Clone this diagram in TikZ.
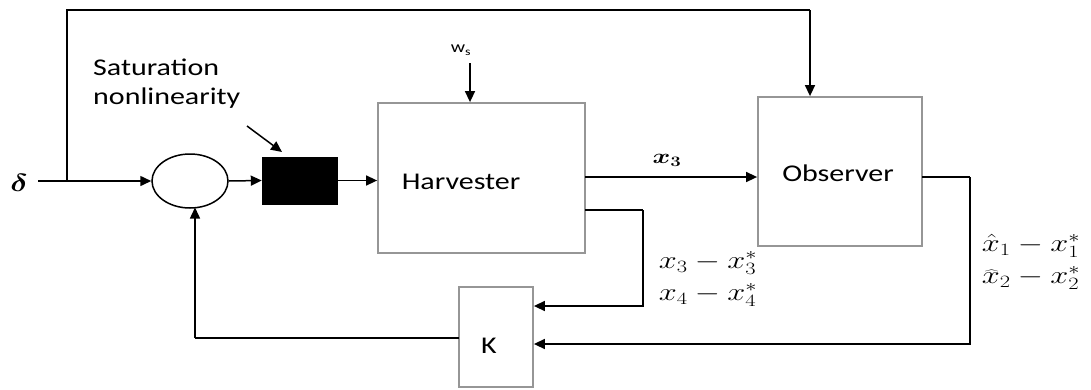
\documentclass[tikz,border=0pt]{standalone}
\usepackage[no-math]{fontspec}
\setmainfont{Carlito}
\usepackage{bm}
\usepackage{graphicx}
\usetikzlibrary{arrows.meta,shapes.geometric,calc}
\definecolor{boxgray}{RGB}{150,150,150}
\newcommand{\hstr}[1]{\scalebox{1.25}[1]{#1}}
\newcommand{\mstr}[1]{\scalebox{1.3}[1]{#1}}
\tikzset{
  conn/.style={line width=1.5pt, draw=black},
  arr/.style={conn, -{Triangle[length=11pt,width=10pt]}},
  blockbox/.style={draw=boxgray, line width=1.8pt, inner sep=0pt, fill=white},
  txt/.style={inner sep=0pt, font=\fontsize{24}{29}\selectfont},
  mtxt/.style={inner sep=0pt, align=center, font=\fontsize{23}{32}\selectfont},
}
\begin{document}
\begin{tikzpicture}[x=1pt,y=-1pt]
\useasboundingbox (0,0) rectangle (1091,389);
% blocks
\node[draw=black, line width=1.5pt, ellipse, minimum width=76pt, minimum height=54pt, inner sep=0pt] (sum) at (190,181) {};
\node[fill=black, draw=black, minimum width=75pt, minimum height=47pt, inner sep=0pt] (sat) at (299.5,180.5) {};
\node[blockbox, minimum width=207pt, minimum height=150pt] (harv) at (481.5,178) {};
\node[blockbox, minimum width=164pt, minimum height=149pt] (obs) at (840,171.5) {};
\node[blockbox, minimum width=74pt, minimum height=100pt] (kbox) at (496,337) {};
% texts
\node[txt] (harvtxt) at (461,182) {\hstr{Harvester}};
\node[txt] (obstxt) at (838,173) {\hstr{Observer}};
\node[txt] (ktxt) at (489,346) {\hstr{K}};
\node[inner sep=0pt, font=\fontsize{16}{19}\selectfont] (ws) at (461,50) {\hstr{w\textsubscript{s}}};
\node[txt, align=left, anchor=west] (sattxt) at (93,84) {\hstr{Saturation}\\\hstr{nonlinearity}};
\node[inner sep=0pt] (delta) at (19,183) {\hstr{\fontsize{30}{34}\selectfont$\bm{\delta}$}};
\node[inner sep=0pt, font=\fontsize{20}{24}\selectfont] (x3lab) at (667,160) {\mstr{$\bm{x_3}$}};
\node[mtxt] (elab) at (708,279) {\mstr{$x_3-x_3^{*}$}\\\mstr{$x_4-x_4^{*}$}};
\node[mtxt] (olab) at (1031,262) {\mstr{$\hat{x}_1-x_1^{*}$}\\\mstr{$\widehat{x}_2-x_2^{*}$}};
% coordinates
\coordinate (din) at (38,181);
\coordinate (jn) at (67,181);
\coordinate (tr) at (810,10);
\coordinate (wsa) at (470,63);
\coordinate (sa1) at (247,126);
\coordinate (sa2) at (282,152);
\coordinate (h1) at (585,177);
\coordinate (h2) at (585,210);
\coordinate (h2c) at (643,210);
\coordinate (o1) at (922,177);
\coordinate (o1c) at (970,177);
\coordinate (k1) at (459,338);
\coordinate (kc) at (195,338);
% connectors
\draw[arr] (din) -- (sum.west);
\draw[conn] (jn) |- (tr);
\draw[arr] (tr) -- (tr |- obs.north);
\draw[arr] (sum.east) -- (sat.west);
\draw[arr] (sat.east) -- (sat.east -| harv.west);
\draw[arr] (wsa) -- (wsa |- harv.north);
\draw[arr] (sa1) -- (sa2);
\draw[arr] (h1) -- (h1 -| obs.west);
\draw[conn] (h2) -- (h2c);
\draw[arr] (h2c) |- (kbox.east |- 0,306);
\draw[conn] (o1) -- (o1c);
\draw[arr] (o1c) |- (kbox.east |- 0,344);
\draw[conn] (k1) -- (kc);
\draw[arr] (kc) -- (kc |- 0,207.5);
\end{tikzpicture}
\end{document}
